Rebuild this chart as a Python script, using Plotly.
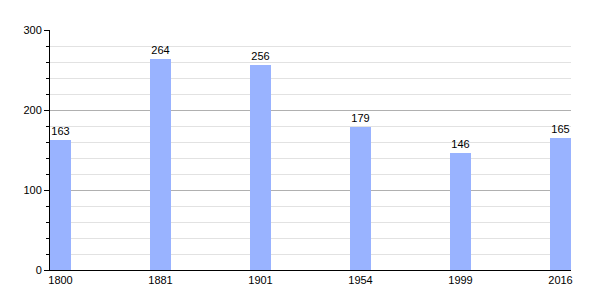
import plotly.graph_objects as go

years = ["1800", "1881", "1901", "1954", "1999", "2016"]
population = [163, 264, 256, 179, 146, 165]

fig = go.Figure()
fig.add_trace(go.Bar(
    x=list(range(len(years))),
    y=population,
    width=0.21,
    marker=dict(color="#99b3ff", line=dict(width=0)),
    text=[str(v) for v in population],
    textposition="outside",
    textfont=dict(family="Liberation Sans, Arial, sans-serif", size=11, color="black"),
    cliponaxis=False,
))

fig.update_layout(
    width=600, height=300,
    margin=dict(l=50, r=29, t=30, b=30),
    paper_bgcolor="white", plot_bgcolor="white",
    showlegend=False,
    font=dict(family="Liberation Sans, Arial, sans-serif", size=11, color="black"),
    bargap=0,
)
fig.update_xaxes(
    tickmode="array", tickvals=list(range(len(years))), ticktext=years,
    range=[-0.105, 5.105],
    showline=True, linecolor="black", linewidth=1,
    ticks="", showgrid=False, zeroline=False,
    tickfont=dict(size=11, color="black"),
)
fig.update_yaxes(
    range=[0, 300], dtick=100,
    showline=True, linecolor="black", linewidth=1,
    ticks="outside", ticklen=5, tickcolor="black",
    showgrid=True, gridcolor="#b0b0b0", gridwidth=1,
    zeroline=False,
    tickfont=dict(size=11, color="black"),
    minor=dict(dtick=20, ticks="outside", ticklen=3, tickcolor="black",
               showgrid=True, gridcolor="#e2e2e2", gridwidth=1),
)

fig.write_html("out.html")
